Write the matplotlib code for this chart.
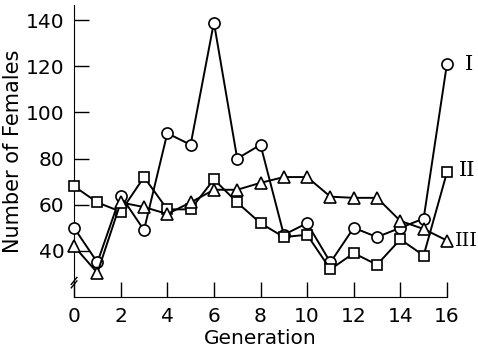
import numpy as np
import matplotlib.pyplot as plt

generation = np.arange(0, 17)
line_1 = [50, 35, 64, 49, 91, 86, 139, 80, 86, 47, 52, 35, 50, 46, 50, 54, 121]
line_2 = [68, 61, 57, 72, 58, 58, 71, 61, 52, 46, 47, 32, 39, 34, 45, 38, 74]
line_3 = [42, 30.5, 61, 59, 56, 61, 66.5, 66.5, 69.5, 72, 72, 63.5, 63, 63, 53, 49.5, 44.5]
labels = ["I", "II", "III"]

fig = plt.figure(figsize=(4.78, 3.47), dpi=100)
ax = fig.add_axes([0.155, 0.144, 0.78, 0.841])

ax.plot(generation, line_1, "-o", color="black", lw=1.4, ms=8,
        mfc="white", mec="black", mew=1.2, clip_on=False, zorder=3)
ax.plot(generation, line_2, "-s", color="black", lw=1.4, ms=7.5,
        mfc="white", mec="black", mew=1.2, clip_on=False, zorder=3)
ax.plot(generation, line_3, "-^", color="black", lw=1.4, ms=8,
        mfc="white", mec="black", mew=1.2, clip_on=False, zorder=3)

ax.set_xlim(0, 16)
ax.set_ylim(20, 146.5)
ax.set_xticks(range(0, 17, 2))
ax.set_yticks(range(40, 141, 20))
ax.tick_params(direction="in", length=11, width=1, labelsize=14.5, pad=7)
ax.spines["top"].set_visible(False)
ax.spines["right"].set_visible(False)

ax.set_xlabel("Generation", fontsize=14.5, labelpad=2)
ax.set_ylabel("Number of Females", fontsize=15, labelpad=2)

# axis break mark
ax.plot([-0.12, 0.12], [25.5, 28.5], color="black", lw=1, clip_on=False)
ax.plot([-0.12, 0.12], [24.0, 27.0], color="black", lw=1, clip_on=False)

# series labels
ax.text(16.95, 121, labels[0], fontsize=15, family="DejaVu Serif", va="center", ha="center")
ax.text(16.85, 75, labels[1], fontsize=15, family="DejaVu Serif", va="center", ha="center")
ax.text(16.82, 44.5, labels[2], fontsize=14, family="DejaVu Serif", va="center", ha="center")

fig.savefig("out.png", dpi=100)
